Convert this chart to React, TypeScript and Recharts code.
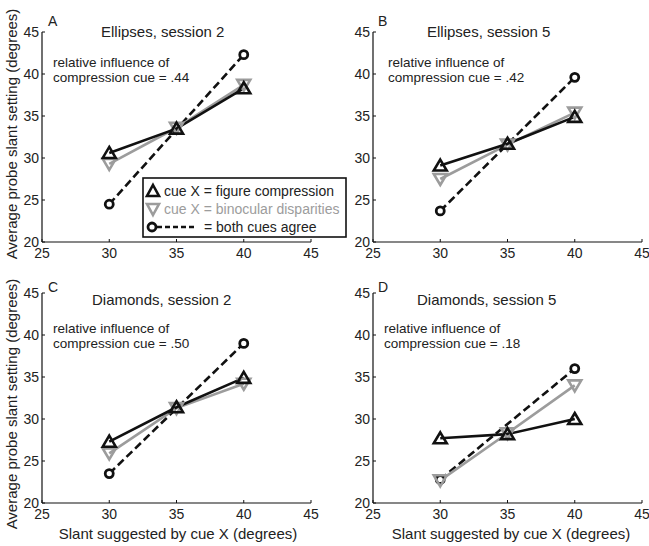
import React from "react";
import { LineChart, Line, XAxis, YAxis } from "recharts";

// x values (slant suggested by cue X)
const slants = [30, 35, 40];
const xTicks = [25, 30, 35, 40, 45];
const yTicks = [20, 25, 30, 35, 40, 45];

// A: Ellipses, session 2
const figA = [30.6, 33.5, 38.3];
const binA = [29.3, 33.6, 38.7];
const bothA = [24.5, null, 42.3];
// B: Ellipses, session 5
const figB = [29.1, 31.7, 34.9];
const binB = [27.5, 31.6, 35.4];
const bothB = [23.7, null, 39.6];
// C: Diamonds, session 2
const figC = [27.3, 31.4, 34.9];
const binC = [25.9, 31.3, 34.2];
const bothC = [23.5, null, 39.0];
// D: Diamonds, session 5
const figD = [27.7, 28.2, 30.0];
const binD = [22.7, 28.3, 34.0];
const bothD = [22.8, null, 36.0];

const panels = [
  { id: "A", title: "Ellipses, session 2", weight: ".44", fig: figA, bin: binA, both: bothA },
  { id: "B", title: "Ellipses, session 5", weight: ".42", fig: figB, bin: binB, both: bothB },
  { id: "C", title: "Diamonds, session 2", weight: ".50", fig: figC, bin: binC, both: bothC },
  { id: "D", title: "Diamonds, session 5", weight: ".18", fig: figD, bin: binD, both: bothD },
];

const FONT = '"Liberation Sans", Arial, sans-serif';
const GRAY = "#9c9c9c";
const W = 320;
const H = 270;
const TOP = 32;
const AXIS_W = 42;
const XAXIS_H = 28;
const PLOT_BOTTOM = H - XAXIS_H;

const toRows = (fig: number[], bin: number[], both: (number | null)[]) =>
  slants.map((x, i) => ({ x, fig: fig[i], bin: bin[i], both: both[i] }));

const triUp = (props: any) => {
  const { cx, cy, index } = props;
  if (cx == null || cy == null) return <g key={index} />;
  return (
    <path
      key={index}
      d={`M${cx},${cy - 6} L${cx + 6.5},${cy + 5} L${cx - 6.5},${cy + 5} Z`}
      fill="none"
      stroke="#111"
      strokeWidth={2.6}
    />
  );
};

const triDown = (props: any) => {
  const { cx, cy, index } = props;
  if (cx == null || cy == null) return <g key={index} />;
  return (
    <path
      key={index}
      d={`M${cx},${cy + 6} L${cx + 6.5},${cy - 5} L${cx - 6.5},${cy - 5} Z`}
      fill="none"
      stroke={GRAY}
      strokeWidth={2.6}
    />
  );
};

const ring = (props: any) => {
  const { cx, cy, index } = props;
  if (cx == null || cy == null) return <g key={index} />;
  return <circle key={index} cx={cx} cy={cy} r={4} fill="#fff" stroke="#111" strokeWidth={2.8} />;
};

const XTick = (props: any) => {
  const { x, payload } = props;
  return (
    <g>
      <line x1={x} x2={x} y1={PLOT_BOTTOM} y2={PLOT_BOTTOM - 3} stroke="#111" />
      <text x={x} y={PLOT_BOTTOM + 16} textAnchor="middle" fontSize={14} fill="#222" fontFamily={FONT}>
        {payload.value}
      </text>
    </g>
  );
};

const YTick = (props: any) => {
  const { y, payload } = props;
  return (
    <g>
      <line x1={AXIS_W} x2={AXIS_W + 3} y1={y} y2={y} stroke="#111" />
      <text x={AXIS_W - 3} y={y + 4.5} textAnchor="end" fontSize={14} fill="#222" fontFamily={FONT}>
        {payload.value}
      </text>
    </g>
  );
};

function Panel({ p, left, top }: { p: (typeof panels)[number]; left: number; top: number }) {
  const rows = toRows(p.fig, p.bin, p.both);
  return (
    <div style={{ position: "absolute", left, top }}>
      <LineChart width={W} height={H} data={rows} margin={{ top: TOP, right: 9, left: 0, bottom: 0 }}>
        <XAxis
          dataKey="x"
          type="number"
          domain={[25, 45]}
          ticks={xTicks}
          height={XAXIS_H}
          axisLine={{ stroke: "#111", strokeWidth: 1.2 }}
          tickLine={false}
          tick={<XTick />}
          interval={0}
        />
        <YAxis
          type="number"
          domain={[20, 45]}
          ticks={yTicks}
          width={AXIS_W}
          axisLine={{ stroke: "#111", strokeWidth: 1.2 }}
          tickLine={false}
          tick={<YTick />}
          interval={0}
        />
        <Line
          dataKey="both"
          stroke="#111"
          strokeWidth={2.6}
          strokeDasharray="8 4"
          connectNulls
          dot={ring}
          isAnimationActive={false}
        />
        <Line dataKey="bin" stroke={GRAY} strokeWidth={2.6} dot={triDown} isAnimationActive={false} />
        <Line dataKey="fig" stroke="#111" strokeWidth={2.6} dot={triUp} isAnimationActive={false} />
      </LineChart>
    </div>
  );
}

const panelPos = [
  { left: 0, top: 0 },
  { left: 331, top: 0 },
  { left: 0, top: 261 },
  { left: 331, top: 261 },
];

// text placement per panel: [letterX, letterY, titleX, titleY, noteX, noteY]
const textPos = [
  [48, 26, 101, 37, 53, 67],
  [378, 26, 427, 37, 388, 67],
  [48, 292, 92, 305, 53, 333],
  [378, 292, 417, 305, 384, 333],
];

export default function App() {
  return (
    <div
      style={{
        position: "absolute",
        left: 0,
        top: 0,
        width: 649,
        height: 546,
        background: "#fff",
        fontFamily: FONT,
        overflow: "hidden",
      }}
    >
      {panels.map((p, i) => (
        <Panel key={p.id} p={p} left={panelPos[i].left} top={panelPos[i].top} />
      ))}
      <svg
        width={649}
        height={546}
        style={{ position: "absolute", left: 0, top: 0, pointerEvents: "none" }}
        fontFamily={FONT}
      >
        {panels.map((p, i) => {
          const [lx, ly, tx, ty, nx, ny] = textPos[i];
          return (
            <g key={p.id} fill="#222">
              <text x={lx} y={ly} fontSize={14}>
                {p.id}
              </text>
              <text x={tx} y={ty} fontSize={15}>
                {p.title}
              </text>
              <text x={nx} y={ny} fontSize={13.5}>
                relative influence of
              </text>
              <text x={nx} y={ny + 15} fontSize={13.5}>
                compression cue = {p.weight}
              </text>
            </g>
          );
        })}

        {/* y axis titles */}
        <text transform="translate(17,134) rotate(-90)" textAnchor="middle" fontSize={15} fill="#222">
          Average probe slant setting (degrees)
        </text>
        <text transform="translate(17,404) rotate(-90)" textAnchor="middle" fontSize={15} fill="#222">
          Average probe slant setting (degrees)
        </text>
        {/* x axis titles */}
        <text x={178} y={539} textAnchor="middle" fontSize={15} fill="#222">
          Slant suggested by cue X (degrees)
        </text>
        <text x={511} y={539} textAnchor="middle" fontSize={15} fill="#222">
          Slant suggested by cue X (degrees)
        </text>

        {/* legend */}
        <g>
          <rect x={143} y={178} width={203} height={59} fill="#fff" stroke="#111" strokeWidth={1.6} />
          <path d="M153,185 L159,196 L147,196 Z" fill="none" stroke="#111" strokeWidth={2.6} />
          <text x={164} y={196} fontSize={14} fill="#222">
            cue X = figure compression
          </text>
          <path d="M153,215 L159,204 L147,204 Z" fill="none" stroke={GRAY} strokeWidth={2.6} />
          <text x={164} y={214} fontSize={14} fill={GRAY}>
            cue X = binocular disparities
          </text>
          <circle cx={152} cy={227} r={4} fill="#fff" stroke="#111" strokeWidth={2.8} />
          <line x1={157} x2={195} y1={227} y2={227} stroke="#111" strokeWidth={2.6} strokeDasharray="5 3" />
          <text x={204} y={232} fontSize={14} fill="#222">
            = both cues agree
          </text>
        </g>
      </svg>
    </div>
  );
}
